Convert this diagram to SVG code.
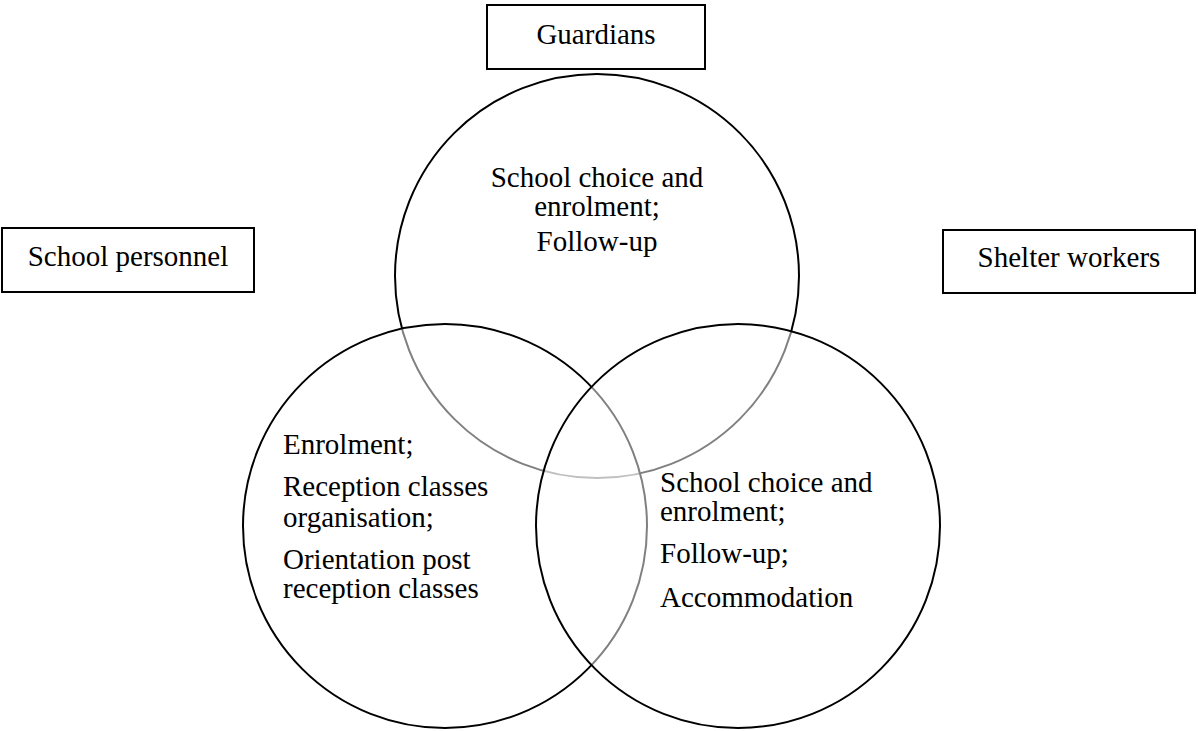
<svg xmlns="http://www.w3.org/2000/svg" width="1198" height="731" viewBox="0 0 1198 731">
  <style>
    .box { fill: #ffffff; stroke: #000000; stroke-width: 2; }
    .circ { fill: #ffffff; fill-opacity: 0.5; stroke: #000000; stroke-width: 2; }
    .t { font-family: "Liberation Serif", "Times New Roman", serif; font-size: 29px; fill: #000000; }
    .c { text-anchor: middle; }
  </style>
  <rect width="1198" height="731" fill="#ffffff"/>
  <g id="circle-guardians">
    <circle class="circ" cx="597" cy="276" r="202"/>
  </g>
  <g id="circle-school">
    <circle class="circ" cx="445" cy="526" r="202"/>
  </g>
  <g id="circle-shelter">
    <circle class="circ" cx="738" cy="526" r="202"/>
  </g>
  <g id="text-guardians">
    <text class="t c" x="597" y="187">School choice and</text>
    <text class="t c" x="597" y="216">enrolment;</text>
    <text class="t c" x="597" y="251">Follow-up</text>
  </g>
  <g id="text-school">
    <text class="t" x="283" y="454">Enrolment;</text>
    <text class="t" x="283" y="496">Reception classes</text>
    <text class="t" x="283" y="527">organisation;</text>
    <text class="t" x="283" y="569">Orientation post</text>
    <text class="t" x="283" y="598">reception classes</text>
  </g>
  <g id="text-shelter">
    <text class="t" x="660" y="492">School choice and</text>
    <text class="t" x="660" y="521">enrolment;</text>
    <text class="t" x="660" y="563">Follow-up;</text>
    <text class="t" x="660" y="607">Accommodation</text>
  </g>
  <g id="node-guardians">
    <rect class="box" x="487" y="5" width="218" height="64"/>
    <text class="t c" x="596" y="44">Guardians</text>
  </g>
  <g id="node-school-personnel">
    <rect class="box" x="2" y="228" width="252" height="64"/>
    <text class="t c" x="128" y="266">School personnel</text>
  </g>
  <g id="node-shelter-workers">
    <rect class="box" x="943" y="230" width="252" height="63"/>
    <text class="t c" x="1069" y="267">Shelter workers</text>
  </g>
  <g id="connectors"/>
</svg>
